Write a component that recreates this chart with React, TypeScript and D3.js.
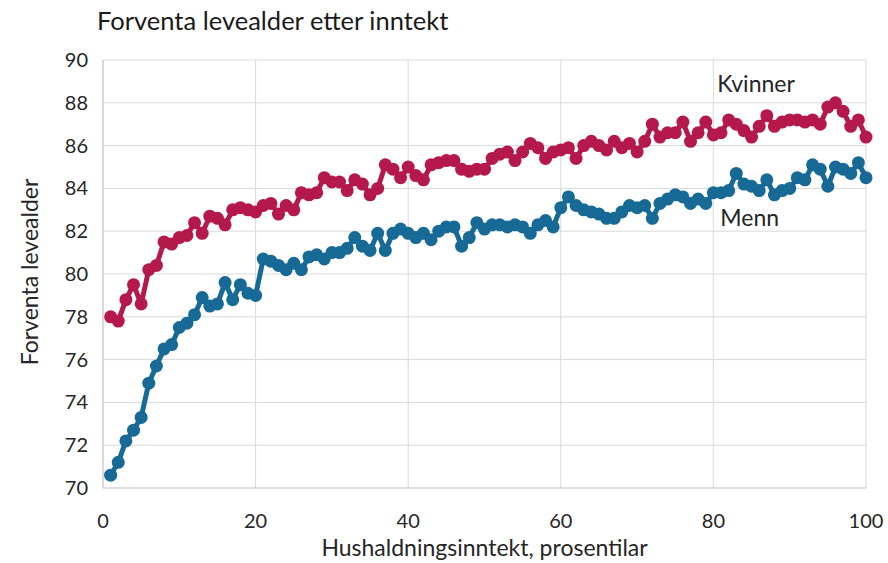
import * as d3 from "d3";

const WIDTH = 888;
const HEIGHT = 563;
const MARGIN = { top: 60, right: 22, bottom: 75, left: 103 };

const PERCENTILES = d3.range(1, 101);

const KVINNER = [
  78.0, 77.8, 78.8, 79.5, 78.6, 80.2, 80.4, 81.5, 81.4, 81.7,
  81.8, 82.4, 81.9, 82.7, 82.6, 82.3, 83.0, 83.1, 83.0, 82.9,
  83.2, 83.3, 82.8, 83.2, 83.0, 83.8, 83.7, 83.8, 84.5, 84.3,
  84.3, 83.9, 84.4, 84.2, 83.7, 84.0, 85.1, 84.9, 84.5, 85.0,
  84.6, 84.4, 85.1, 85.2, 85.3, 85.3, 84.9, 84.8, 84.9, 84.9,
  85.4, 85.6, 85.7, 85.3, 85.7, 86.1, 85.9, 85.4, 85.7, 85.8,
  85.9, 85.4, 86.0, 86.2, 86.0, 85.8, 86.2, 85.9, 86.1, 85.7,
  86.2, 87.0, 86.4, 86.6, 86.6, 87.1, 86.2, 86.6, 87.1, 86.5,
  86.6, 87.2, 87.0, 86.7, 86.4, 86.9, 87.4, 86.9, 87.1, 87.2,
  87.2, 87.1, 87.2, 87.0, 87.8, 88.0, 87.6, 86.9, 87.2, 86.4,
];

const MENN = [
  70.6, 71.2, 72.2, 72.7, 73.3, 74.9, 75.7, 76.5, 76.7, 77.5,
  77.7, 78.1, 78.9, 78.5, 78.6, 79.6, 78.8, 79.5, 79.1, 79.0,
  80.7, 80.6, 80.4, 80.2, 80.5, 80.2, 80.8, 80.9, 80.7, 81.0,
  81.0, 81.2, 81.7, 81.3, 81.1, 81.9, 81.1, 81.9, 82.1, 81.9,
  81.7, 81.9, 81.6, 82.0, 82.2, 82.2, 81.3, 81.7, 82.4, 82.1,
  82.3, 82.3, 82.2, 82.3, 82.2, 81.9, 82.3, 82.5, 82.2, 83.1,
  83.6, 83.2, 83.0, 82.9, 82.8, 82.6, 82.6, 82.9, 83.2, 83.1,
  83.2, 82.6, 83.3, 83.5, 83.7, 83.6, 83.3, 83.5, 83.3, 83.8,
  83.8, 83.9, 84.7, 84.2, 84.1, 83.9, 84.4, 83.7, 83.9, 84.0,
  84.5, 84.4, 85.1, 84.9, 84.1, 85.0, 84.9, 84.7, 85.2, 84.5,
];

const X_TICKS = [0, 20, 40, 60, 80, 100];
const Y_TICKS = [70, 72, 74, 76, 78, 80, 82, 84, 86, 88, 90];

const SERIES = [
  { key: "kvinner", label: "Kvinner", values: KVINNER, color: "#b5184b", labelAt: [80.5, 88.9] },
  { key: "menn", label: "Menn", values: MENN, color: "#176996", labelAt: [80.9, 82.6] },
];

const FONT = "Lato, 'Open Sans', sans-serif";

export default function App() {
  const x = d3.scaleLinear().domain([0, 100]).range([MARGIN.left, WIDTH - MARGIN.right]);
  const y = d3.scaleLinear().domain([70, 90]).range([HEIGHT - MARGIN.bottom, MARGIN.top]);
  const line = d3
    .line<number>()
    .x((_, i) => x(PERCENTILES[i]))
    .y((v) => y(v));

  const plotBottom = HEIGHT - MARGIN.bottom;
  const plotRight = WIDTH - MARGIN.right;

  return (
    <svg
      width={WIDTH}
      height={HEIGHT}
      viewBox={`0 0 ${WIDTH} ${HEIGHT}`}
      style={{ position: "absolute", left: 0, top: 0, background: "#fff", fontFamily: FONT }}
    >
      <text x={97} y={30} fontSize={25.5} fill="#1a1a1a">
        Forventa levealder etter inntekt
      </text>

      {Y_TICKS.map((t) => (
        <g key={`y-${t}`}>
          {t > 70 && (
            <line x1={MARGIN.left} x2={plotRight} y1={y(t)} y2={y(t)} stroke="#d9d9d9" strokeWidth={1} />
          )}
          <text x={88} y={y(t) + 7} textAnchor="end" fontSize={20} fill="#262626">
            {t}
          </text>
        </g>
      ))}

      {X_TICKS.map((t) => (
        <g key={`x-${t}`}>
          {t > 0 && (
            <line x1={x(t)} x2={x(t)} y1={MARGIN.top} y2={plotBottom} stroke="#d9d9d9" strokeWidth={1} />
          )}
          <text x={x(t)} y={plotBottom + 40} textAnchor="middle" fontSize={20} fill="#262626">
            {t}
          </text>
        </g>
      ))}

      <line x1={MARGIN.left} x2={MARGIN.left} y1={MARGIN.top} y2={plotBottom} stroke="#bfbfbf" strokeWidth={1.2} />
      <line x1={MARGIN.left} x2={plotRight} y1={plotBottom} y2={plotBottom} stroke="#bfbfbf" strokeWidth={1.2} />

      <text
        x={(MARGIN.left + plotRight) / 2}
        y={HEIGHT - 7}
        textAnchor="middle"
        fontSize={23}
        fill="#262626"
      >
        Hushaldningsinntekt, prosentilar
      </text>
      <text
        transform={`translate(38 ${(MARGIN.top + plotBottom) / 2 - 2}) rotate(-90)`}
        textAnchor="middle"
        fontSize={23}
        fill="#262626"
      >
        Forventa levealder
      </text>

      {SERIES.map((s) => (
        <g key={s.key}>
          <path d={line(s.values) || ""} fill="none" stroke={s.color} strokeWidth={5} strokeLinejoin="round" />
          {s.values.map((v, i) => (
            <circle key={i} cx={x(PERCENTILES[i])} cy={y(v)} r={6.5} fill={s.color} />
          ))}
          <text x={x(s.labelAt[0])} y={y(s.labelAt[1]) + 8} fontSize={23} fill="#262626">
            {s.label}
          </text>
        </g>
      ))}
    </svg>
  );
}
